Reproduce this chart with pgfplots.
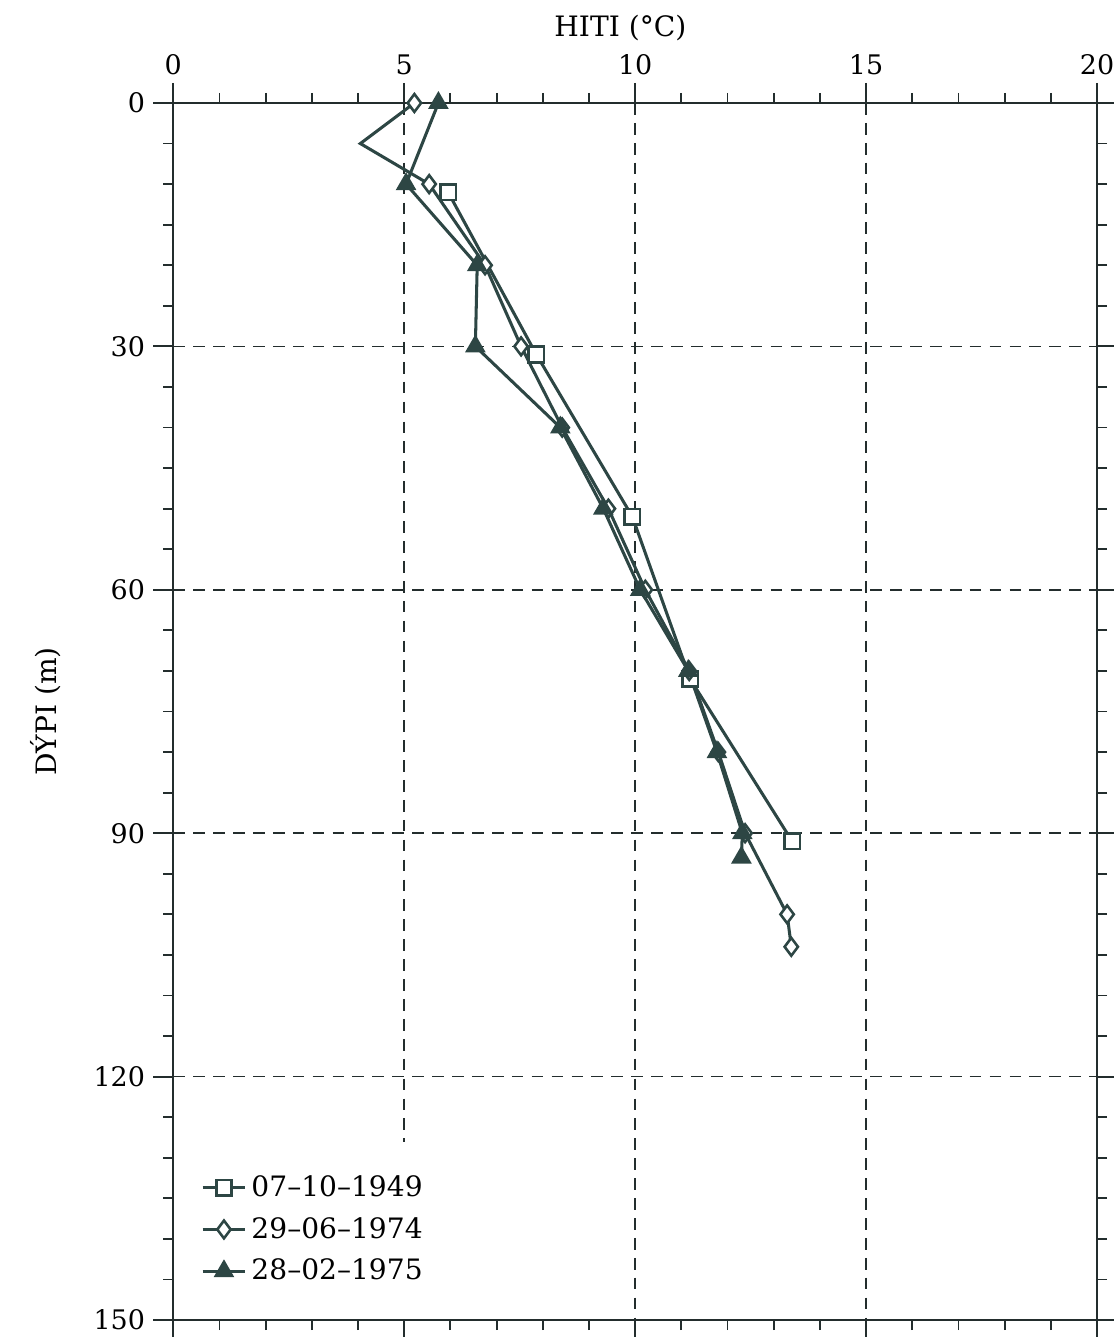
\documentclass[border=0pt]{standalone}
\usepackage{fontspec}
\setmainfont{DejaVu Serif}
\usepackage{pgfplots}
\pgfplotsset{compat=1.18}
\definecolor{ink}{RGB}{45,70,68}
\definecolor{axisink}{RGB}{35,45,45}

\begin{document}
\begin{tikzpicture}
\begin{axis}[
    name=ax,
    scale only axis,
    width=13.86cm, height=18.26cm,
    xmin=0, xmax=20, ymin=0, ymax=150,
    y dir=reverse,
    xtick={0,5,10,15,20},
    ytick={0,30,60,90,120,150},
    minor xtick={1,2,3,4,6,7,8,9,11,12,13,14,16,17,18,19},
    minor ytick={5,10,15,20,25,35,40,45,50,55,65,70,75,80,85,95,100,105,110,115,125,130,135,140,145},
    xticklabel pos=upper,
    tick align=outside,
    major tick length=0.3cm,
    minor tick length=0.15cm,
    every tick/.style={axisink, line width=0.8pt},
    axis line style={axisink, line width=0.9pt},
    /pgf/number format/assume math mode=true,
    ticklabel style={font=\fontsize{11.5}{13}\selectfont},
    xlabel={HITI (°C)},
    ylabel={DÝPI (m)},
    xlabel style={at={(axis description cs:0.484,1.062)}, anchor=center, font=\large},
    ylabel style={at={(axis description cs:-0.138,0.5)}, anchor=center, font=\large},
    legend style={at={(axis description cs:0.022,0.022)}, anchor=south west,
        draw=none, fill=none, font=\large, row sep=0.12cm},
    legend cell align=left,
    legend image code/.code={\draw[mark indices={2}] plot coordinates {(0cm,0cm) (0.32cm,0cm) (0.64cm,0cm)};},
    every axis plot/.append style={ink, line width=1.3pt, mark size=3.3pt},
]
% grid
\draw[axisink, line width=0.7pt, dash pattern=on 5pt off 3.5pt] (axis cs:5,0) -- (axis cs:5,128);
\draw[axisink, line width=0.7pt, dash pattern=on 5pt off 3.5pt] (axis cs:10,0) -- (axis cs:10,150);
\draw[axisink, line width=0.7pt, dash pattern=on 5pt off 3.5pt] (axis cs:15,0) -- (axis cs:15,150);
\draw[axisink, line width=0.7pt, dash pattern=on 5pt off 3.5pt] (axis cs:0,30) -- (axis cs:20,30);
\draw[axisink, line width=0.7pt, dash pattern=on 5pt off 3.5pt] (axis cs:0,60) -- (axis cs:20,60);
\draw[axisink, line width=0.7pt, dash pattern=on 5pt off 3.5pt] (axis cs:0,90) -- (axis cs:20,90);
\draw[axisink, line width=0.7pt, dash pattern=on 5pt off 3.5pt] (axis cs:0,120) -- (axis cs:20,120);

\addplot[mark=square*, mark options={fill=white, solid, line width=1.1pt}] coordinates {
(5.95,11) (7.86,31) (9.94,51) (11.19,71) (13.40,91)
};
\addlegendentry{07--10--1949}

\addplot[mark=diamond*, mark size=3.8pt, mark options={fill=white, solid, line width=1.1pt},
    mark indices={1,3,4,5,6,7,8,9,10,11,12,13}] coordinates {
(5.22,0) (4.05,5) (5.54,10) (6.75,20) (7.53,30) (8.42,40) (9.42,50)
(10.22,60) (11.17,70) (11.80,80) (12.38,90) (13.29,100) (13.38,104)
};
\addlegendentry{29--06--1974}

\addplot[mark=triangle*, mark size=3.8pt, mark options={fill=ink, solid}] coordinates {
(5.74,0) (5.04,10) (6.58,20) (6.54,30) (8.38,40) (9.31,50)
(10.11,60) (11.15,70) (11.77,80) (12.32,90) (12.30,93)
};
\addlegendentry{28--02--1975}
\end{axis}
\pgfresetboundingbox
\path ([shift={(-2.6cm,-0.255cm)}]ax.south west) rectangle ([shift={(0.24cm,1.545cm)}]ax.north east);
\end{tikzpicture}
\end{document}
